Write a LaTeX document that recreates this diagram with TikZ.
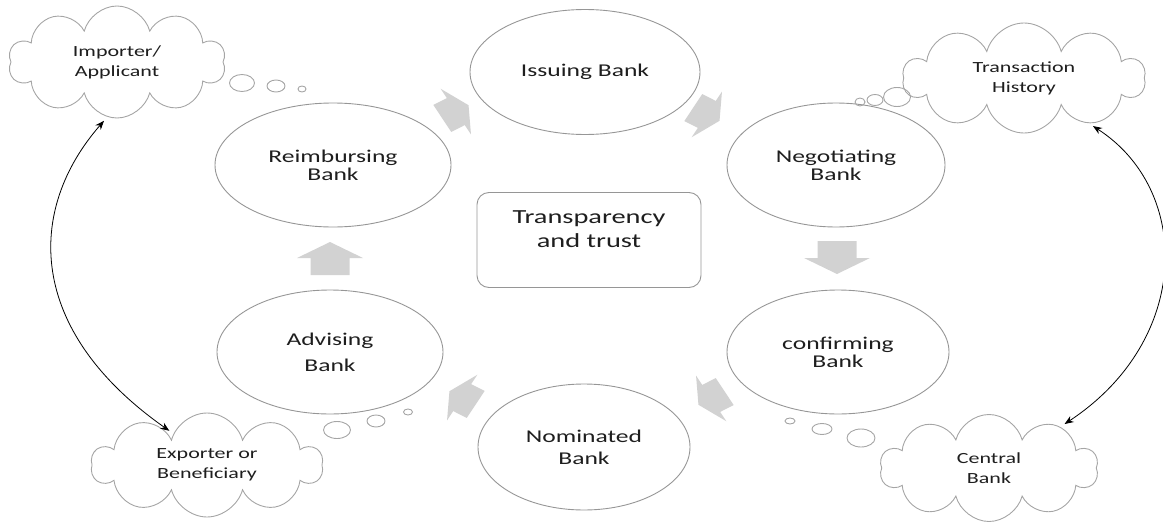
\documentclass[tikz,border=0pt]{standalone}
\usepackage{fontspec}
\setmainfont{Carlito}[FakeStretch=1.42]
\usetikzlibrary{shapes.geometric,shapes.symbols,arrows.meta}

\definecolor{ringgray}{RGB}{150,150,150}
\definecolor{cloudgray}{RGB}{165,165,165}
\definecolor{flowgray}{RGB}{210,210,210}
\definecolor{textgray}{RGB}{30,30,30}

\begin{document}
\begin{tikzpicture}[x=1pt, y=-1pt,
    bank/.style={shape=ellipse, draw=ringgray, line width=0.9pt, inner sep=0pt, align=center, text=textgray, font=\fontsize{18}{18}\selectfont},
    thought/.style={shape=cloud, cloud puffs=10, cloud ignores aspect, draw=cloudgray, line width=0.9pt, inner sep=0pt, align=center, text=textgray, font=\fontsize{15.5}{20}\selectfont},
    bubble/.style={shape=ellipse, draw=cloudgray, line width=0.9pt, inner sep=0pt},
    link/.style={{Stealth[length=9pt,width=7pt]}-{Stealth[length=9pt,width=7pt]}, line width=0.8pt, shorten <=5pt, shorten >=5pt},
    flow/.pic={\fill[flowgray] (-16,-19.5) -- (1,-19.5) -- (1,-33) -- (17,0) -- (1,33) -- (1,19.5) -- (-16,19.5) -- cycle;}]
    \useasboundingbox (0,0) rectangle (1163,522);

    % banks
    \node[bank, minimum width=230pt, minimum height=125pt] (issuing) at (585,72) {Issuing Bank};
    \node[bank, minimum width=236pt, minimum height=124pt] (reimbursing) at (333,165) {Reimbursing\\Bank};
    \node[bank, minimum width=218pt, minimum height=124pt] (negotiating) at (836,165) {Negotiating\\Bank};
    \node[bank, minimum width=226pt, minimum height=124pt] (advising) at (330,352) {Advising\\[8pt]Bank};
    \node[bank, minimum width=222pt, minimum height=124pt] (confirming) at (838,352) {confirming\\Bank};
    \node[bank, minimum width=212pt, minimum height=126pt] (nominated) at (584,447) {Nominated\\[4pt]Bank};

    \node[draw=ringgray, line width=0.9pt, rounded corners=12pt, minimum width=224pt, minimum height=95pt, align=center, text=textgray, text depth=22pt, font=\fontsize{20}{24}\selectfont] (trust) at (589,240) {Transparency\\and trust};

    % flow between banks
    \path (455,112) pic[xscale=1.15, rotate=30, scale=0.8] {flow};
    \path (706,114) pic[xscale=1.15, rotate=-30, scale=0.8] {flow};
    \path (837,257) pic[rotate=-90] {flow};
    \path (712,398) pic[xscale=1.15, rotate=-150, scale=0.8] {flow};
    \path (463,398) pic[xscale=1.15, rotate=150, scale=0.8] {flow};
    \path (330,259) pic[rotate=90] {flow};

    % parties
    \node[thought, minimum width=217pt, minimum height=112pt] (importer) at (117,62) {Importer/\\Applicant};
    \node[thought, minimum width=242pt, minimum height=110pt] (history) at (1024,78) {Transaction\\History};
    \node[thought, minimum width=231pt, minimum height=104pt] (exporter) at (207,465) {Exporter or\\Beneficiary};
    \node[thought, minimum width=218pt, minimum height=107pt] (central) at (989,468) {Central\\Bank};

    % thought bubbles
    \node[bubble, minimum width=25pt, minimum height=17pt] (imp1) at (242,83) {};
    \node[bubble, minimum width=18pt, minimum height=12pt] (imp2) at (276,86) {};
    \node[bubble, minimum width=8pt, minimum height=6pt] (imp3) at (302,89) {};
    \node[bubble, minimum width=27pt, minimum height=19pt] (his1) at (897,97) {};
    \node[bubble, minimum width=16pt, minimum height=11pt] (his2) at (875,100) {};
    \node[bubble, minimum width=10pt, minimum height=8pt] (his3) at (860,102) {};
    \node[bubble, minimum width=27pt, minimum height=17pt] (exp1) at (337,430) {};
    \node[bubble, minimum width=18pt, minimum height=12pt] (exp2) at (376,421) {};
    \node[bubble, minimum width=9pt, minimum height=6pt] (exp3) at (408,412) {};
    \node[bubble, minimum width=28pt, minimum height=18pt] (cen1) at (861,438) {};
    \node[bubble, minimum width=20pt, minimum height=11pt] (cen2) at (822,429) {};
    \node[bubble, minimum width=10pt, minimum height=6pt] (cen3) at (790,421) {};

    % links
    \draw[link] (importer.-100) .. controls (26,210) and (26,330) .. (exporter.137);
    \draw[link] (history.-35) .. controls (1192,190) and (1192,340) .. (central.30);
\end{tikzpicture}
\end{document}
